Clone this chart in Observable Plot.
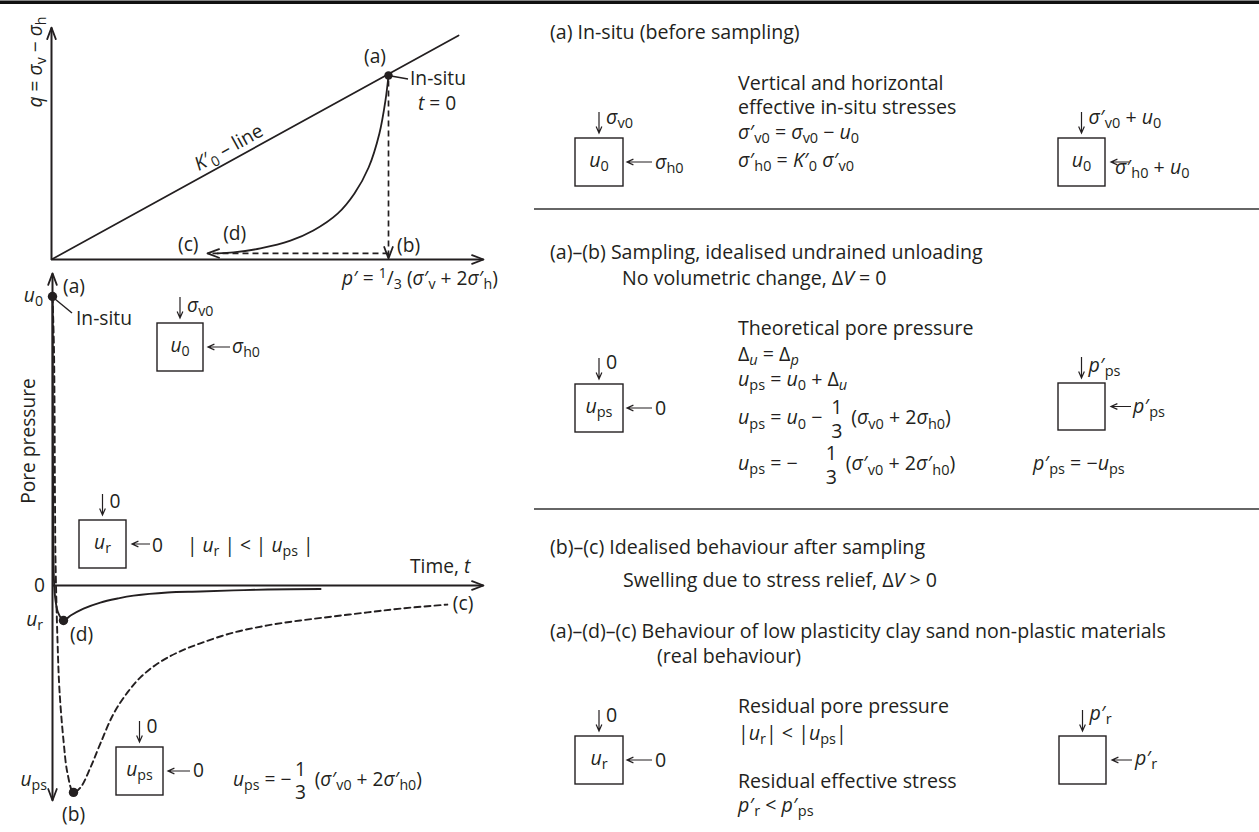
<!DOCTYPE html>
<html><head><meta charset="utf-8">
<script src="https://cdn.jsdelivr.net/npm/d3@7"></script>
<script src="https://cdn.jsdelivr.net/npm/@observablehq/plot@0.6"></script>
<style>
html,body{margin:0;padding:0;background:#fff;}
#page{position:relative;width:1259px;height:832px;overflow:hidden;font-family:"Open Sans","Noto Sans",sans-serif;color:#231f20;}
#page > svg{position:absolute;left:0;}
.lbl{position:absolute;left:0;top:0;white-space:nowrap;line-height:1.2;}
.lbl sub{font-size:0.74em;vertical-align:-0.3em;line-height:0;font-style:normal;}
.lbl sup{font-size:0.72em;vertical-align:0.5em;line-height:0;}
.lbl .pm{font-style:normal;margin-left:0.02em;}
.lbl .ps{margin-left:0;}
.bl{display:inline-block;width:0;height:0;vertical-align:baseline;}
.frac{display:inline-block;vertical-align:-0.68em;text-align:center;line-height:1.2;margin:0 0.14em;}
.frac>span{display:block;padding:0 0.05em;}
</style></head>
<body><div id="page"></div>
<script>
const ink = "#231f20";

// ---------- stress path (q – p′) values ----------
const k0LineP = [0, 1.208];
const k0LineQ = [0, 0.665];
const insituP = 1.0, insituQ = 0.546;                 // point (a)
const realPathP = [1.000, 0.991, 0.973, 0.941, 0.899, 0.849, 0.777, 0.709, 0.620, 0.540, 0.493];
const realPathQ = [0.546, 0.472, 0.374, 0.273, 0.196, 0.136, 0.086, 0.056, 0.033, 0.021, 0.018];
const unloadQEnd = 0.003;                              // (a) -> (b)
const swellQ = 0.018, swellPEnd = 0.463;               // (b) -> (c)
const pAxisEnd = 1.282, qAxisEnd = 0.688;

// ---------- pore pressure vs time values ----------
const u0 = 1.0, ur = -0.121, ups = -0.716;
const realTime = [0, 0.07, 0.19, 0.35, 0.7, 1.28, 2.55, 4.2, 7.2, 11.1, 15.1, 18.8, 26.7, 34.3, 42, 49.9, 62.2];
const realU    = [1, 0.64, 0.156, 0.017, -0.052, -0.093, -0.121, -0.104, -0.080, -0.059, -0.045, -0.035, -0.024, -0.021, -0.017, -0.014, -0.012];
const idealTime = [0, 0.35, 0.58, 0.7, 1.16, 1.62, 2.55, 3.48, 4.87, 6.5, 8.8, 11.1, 14.2, 17.4, 20.4, 24.4, 29, 34.3, 42, 49.9, 57.5, 65.2, 73.1, 80.7, 91.6];
const idealU    = [1, 0.81, 0.29, 0.087, -0.19, -0.363, -0.536, -0.65, -0.716, -0.699, -0.63, -0.547, -0.443, -0.37, -0.318, -0.27, -0.232, -0.2, -0.163, -0.138, -0.121, -0.107, -0.093, -0.08, -0.066];
const dTime = 2.55, bTime = 4.87;
const tAxisEnd = 100, uAxisTop = 1.08, uAxisBottom = -0.744;

const zip = (xs, ys, kx, ky) => xs.map((v, i) => ({[kx]: v, [ky]: ys[i]}));
const page = document.getElementById("page");

// open arrow head drawn only (no shaft), tip at origin, pointing north
const head = {draw(ctx) { ctx.moveTo(-4.3, 11.5); ctx.lineTo(0, 0); ctx.lineTo(4.3, 11.5); }};

// ---------- stress path plot ----------
const sx = 337;
const stressPlot = Plot.plot({
  width: 520, height: 300, margin: 0,
  x: {domain: [0, 1.3], range: [51, 51 + 1.3 * sx], axis: null},
  y: {domain: [0, 0.7], range: [259, 259 - 0.7 * sx], axis: null},
  style: {background: "transparent", overflow: "visible"},
  marks: [
    Plot.link([{x1: 0, y1: 0, x2: 0, y2: qAxisEnd}, {x1: 0, y1: 0, x2: pAxisEnd, y2: 0}],
      {x1: "x1", y1: "y1", x2: "x2", y2: "y2", stroke: ink, strokeWidth: 2}),
    Plot.line(zip(k0LineP, k0LineQ, "p", "q"), {x: "p", y: "q", stroke: ink, strokeWidth: 1.7}),
    Plot.line(zip(realPathP, realPathQ, "p", "q"), {x: "p", y: "q", curve: "catmull-rom", stroke: ink, strokeWidth: 1.8}),
    Plot.link([{x1: insituP, y1: insituQ - 0.015, x2: insituP, y2: unloadQEnd}],
      {x1: "x1", y1: "y1", x2: "x2", y2: "y2", stroke: ink, strokeWidth: 1.7, strokeDasharray: "6,4"}),
    Plot.link([{x1: insituP, y1: swellQ, x2: swellPEnd, y2: swellQ}],
      {x1: "x1", y1: "y1", x2: "x2", y2: "y2", stroke: ink, strokeWidth: 1.7, strokeDasharray: "6,4"}),
    Plot.vector([
        {p: 0, q: qAxisEnd, dir: 0}, {p: pAxisEnd, q: 0, dir: 90},
        {p: insituP, q: unloadQEnd, dir: 180}, {p: swellPEnd, q: swellQ, dir: 270}],
      {x: "p", y: "q", rotate: "dir", length: 11, shape: head, anchor: "start", stroke: ink, fill: "none", strokeWidth: 1.8}),
    Plot.dot([{p: insituP, q: insituQ}], {x: "p", y: "q", r: 4.2, fill: ink, stroke: null})
  ]
});
stressPlot.style.top = "0px";
page.appendChild(stressPlot);

// ---------- pore pressure plot ----------
const ux = 289, poreTop = 262;
const porePlot = Plot.plot({
  width: 520, height: 570, margin: 0,
  x: {domain: [0, 100], range: [52, 483], axis: null},
  y: {domain: [-0.75, 1.1], range: [323 + 0.75 * ux, 323 - 1.1 * ux], axis: null},
  style: {background: "transparent", overflow: "visible"},
  marks: [
    Plot.link([{x1: 0, y1: uAxisBottom, x2: 0, y2: uAxisTop}, {x1: 0, y1: 0, x2: tAxisEnd, y2: 0}],
      {x1: "x1", y1: "y1", x2: "x2", y2: "y2", stroke: ink, strokeWidth: 2}),
    Plot.line(zip(idealTime, idealU, "t", "u"), {x: "t", y: "u", curve: "catmull-rom", stroke: ink, strokeWidth: 1.9, strokeDasharray: "6,4"}),
    Plot.line(zip(realTime, realU, "t", "u"), {x: "t", y: "u", curve: "catmull-rom", stroke: ink, strokeWidth: 1.9}),
    Plot.vector([{t: 0, u: uAxisTop, dir: 0}, {t: 0, u: uAxisBottom, dir: 180}, {t: tAxisEnd, u: 0, dir: 90}],
      {x: "t", y: "u", rotate: "dir", length: 11, shape: head, anchor: "start", stroke: ink, fill: "none", strokeWidth: 1.8}),
    Plot.dot([{t: 0, u: u0}, {t: dTime, u: ur}, {t: bTime, u: ups}], {x: "t", y: "u", r: 4.7, fill: ink, stroke: null})
  ]
});
porePlot.style.top = poreTop + "px";
page.appendChild(porePlot);

const xS = v => stressPlot.scale("x").apply(v), yS = v => stressPlot.scale("y").apply(v);
const xP = v => porePlot.scale("x").apply(v), yP = v => porePlot.scale("y").apply(v) + poreTop;

// ---------- decoration overlay ----------
const deco = d3.select(page).append("svg").attr("width", 1259).attr("height", 832).style("top", "0px");
deco.append("rect").attr("x", 0).attr("y", 0.5).attr("width", 1259).attr("height", 3.5).attr("fill", "#111");
[209, 509].forEach(y => deco.append("line").attr("x1", 534).attr("x2", 1259).attr("y1", y).attr("y2", y).attr("stroke", "#333").attr("stroke-width", 1.6));
function seg(x1, y1, x2, y2, w = 1.2) {
  deco.append("line").attr("x1", x1).attr("y1", y1).attr("x2", x2).attr("y2", y2).attr("stroke", ink).attr("stroke-width", w);
}
function smallArrow(x1, y1, x2, y2) {
  const a = Math.atan2(y2 - y1, x2 - x1), L = 7, w = 0.42;
  deco.append("path")
    .attr("d", `M${x1},${y1}L${x2},${y2}M${x2 - L * Math.cos(a - w)},${y2 - L * Math.sin(a - w)}L${x2},${y2}L${x2 - L * Math.cos(a + w)},${y2 - L * Math.sin(a + w)}`)
    .attr("fill", "none").attr("stroke", ink).attr("stroke-width", 1.2);
}
// leader lines for "In-situ"
seg(xS(insituP) + 3, yS(insituQ) + 1, xS(insituP) + 20, yS(insituQ) + 4, 1.4);
seg(xP(0) + 3, yP(u0) + 3, xP(0) + 20, yP(u0) + 17, 1.4);

// ---------- text helpers ----------
function label(html, x, y, o = {}) {
  const size = o.size || R, anchor = o.anchor || "start";
  const d = document.createElement("div");
  d.className = "lbl";
  d.style.fontSize = size + "px";
  d.innerHTML = html + '<span class="bl"></span>';
  page.appendChild(d);
  const b = d.querySelector(".bl").offsetTop;
  const w = d.getBoundingClientRect().width;
  const ax = anchor === "middle" ? w / 2 : anchor === "end" ? w : 0;
  d.style.left = (x - ax) + "px";
  d.style.top = (y - b) + "px";
  if (o.rotate) { d.style.transformOrigin = `${ax}px ${b}px`; d.style.transform = `rotate(${o.rotate}deg)`; }
}
const R = 19.6, L = 19.2;
const it = s => `<i>${s}</i>`;
const u = s => `<i>u</i><sub>${s}</sub>`;
const sg = (s, pr) => pr ? `<i>σ</i><span class="pm">′</span><sub class="ps">${s}</sub>` : `<i>σ</i><sub>${s}</sub>`;
const pp = s => `<i>p</i><span class="pm">′</span><sub class="ps">${s}</sub>`;
const K0 = `<i>K</i><span class="pm">′</span><sub class="ps">0</sub>`;
const frac = `<span class="frac"><span>1</span><span>3</span></span>`;

// ---------- stress element sketches ----------
const sketches = [
  {x: 157, y: 323, w: 46, h: 48, inner: u("0"), top: sg("v0"), side: sg("h0"), size: L, a1: 27, a2: 5, lx: 29, ly: 30, ty: -11},
  {x: 79, y: 520, w: 47, h: 48, inner: u("r"), top: "0", side: "0", size: L, a1: 24, a2: 6, lx: 26, ly: 32, ty: -12},
  {x: 116, y: 747, w: 47, h: 48, inner: u("ps"), top: "0", side: "0", size: L, a1: 27, a2: 5, lx: 30, ly: 30, ty: -14},
  {x: 575, y: 138, w: 48, h: 48, inner: u("0"), top: sg("v0"), side: sg("h0"), a1: 29, a2: 4, lx: 32, ly: 31, ty: -14},
  {x: 575, y: 384, w: 48, h: 48, inner: u("ps"), top: "0", side: "0", a1: 29, a2: 4, lx: 32, ly: 31, ty: -15},
  {x: 575, y: 736, w: 48, h: 48, inner: u("r"), top: "0", side: "0", a1: 29, a2: 4, lx: 32, ly: 31, ty: -14},
  {x: 1058, y: 138, w: 47, h: 48, inner: u("0"), top: `${sg("v0", 1)} + ${u("0")}`, side: `${sg("h0", 1)} + ${u("0")}`, a1: 24, a2: 6, lx: 10, ly: 36, ty: -14},
  {x: 1058, y: 383, w: 47, h: 47, inner: "", top: pp("ps"), side: pp("ps"), a1: 26, a2: 6, lx: 28, ly: 30, ty: -11},
  {x: 1059, y: 736, w: 47, h: 48, inner: "", top: pp("r"), side: pp("r"), a1: 26, a2: 6, lx: 29, ly: 29, ty: -16}
];
for (const s of sketches) {
  deco.append("rect").attr("x", s.x).attr("y", s.y).attr("width", s.w).attr("height", s.h)
    .attr("fill", "none").attr("stroke", ink).attr("stroke-width", 1.4);
  const cx = s.x + s.w / 2, cy = s.y + s.h / 2, size = s.size || R;
  smallArrow(cx, s.y - 26, cx, s.y - 5);
  smallArrow(s.x + s.w + s.a1, cy, s.x + s.w + s.a2, cy);
  if (s.inner) label(s.inner, cx, s.y + 29, {size, anchor: "middle"});
  label(s.top, cx + 7, s.y + s.ty, {size});
  label(s.side, s.x + s.w + s.lx, s.y + s.ly, {size});
}

// ---------- stress-path labels ----------
label(`${it("q")} = <i>σ</i><sub>v</sub> − <i>σ</i><sub>h</sub>`, 42, 62, {size: L, anchor: "middle", rotate: -90});
{
  const ang = Math.atan2(yS(k0LineQ[1]) - yS(k0LineQ[0]), xS(k0LineP[1]) - xS(k0LineP[0]));
  const pm = 0.545, qm = pm * k0LineQ[1] / k0LineP[1];
  const nx = Math.sin(ang), ny = -Math.cos(ang);
  label(`${K0} – line`, xS(pm) + 6 * nx, yS(qm) + 6 * ny, {size: L, anchor: "middle", rotate: ang * 180 / Math.PI});
}
label("(a)", xS(insituP) - 13, yS(insituQ) - 12, {size: L, anchor: "middle"});
label("In-situ", xS(insituP) + 22, yS(insituQ) + 10, {size: L});
label(`${it("t")} = 0`, xS(insituP) + 30, yS(insituQ) + 35, {size: L});
label("(b)", xS(insituP) + 9, yS(0) - 7, {size: L});
label("(c)", xS(swellPEnd) - 29, yS(swellQ) - 2, {size: L});
label("(d)", xS(realPathP[realPathP.length - 1]) + 6, yS(swellQ) - 13, {size: L});
label(`<i>p</i><span class="pm">′</span> = <sup>1</sup>/<sub>3</sub> (${sg("v", 1)} + 2${sg("h", 1)})`, 342, 285, {size: L});

// ---------- pore-pressure labels ----------
label(u("0"), xP(0) - 9, yP(u0) + 6, {size: L, anchor: "end"});
label("(a)", xP(0) + 11, yP(u0) - 3, {size: L});
label("In-situ", xP(0) + 24, yP(u0) + 29, {size: L});
label("Pore pressure", 35, 441, {size: L, anchor: "middle", rotate: -90});
label(`| ${u("r")} | &lt; | ${u("ps")} |`, 187, 552, {size: L});
label("0", xP(0) - 7, yP(0) + 7, {size: L, anchor: "end"});
label(`Time, ${it("t")}`, 410, yP(0) - 12, {size: L});
label(u("r"), xP(0) - 9, yP(ur) + 6, {size: L, anchor: "end"});
label("(d)", xP(dTime) + 7, yP(ur) + 21, {size: L});
label(u("ps"), xP(0) - 5, yP(ups) - 6, {size: L, anchor: "end"});
label("(b)", xP(bTime) - 11, yP(ups) + 29, {size: L});
label("(c)", xP(idealTime[idealTime.length - 1]) + 6, yP(idealU[idealU.length - 1]) + 6, {size: L});
label(`${u("ps")} = −${frac} (${sg("v0", 1)} + 2${sg("h0", 1)})`, 233, 786, {size: L});

// ---------- right panel text ----------
label("(a) In-situ (before sampling)", 550, 39);
label("Vertical and horizontal", 738, 90);
label("effective in-situ stresses", 738, 114);
label(`${sg("v0", 1)} = ${sg("v0")} − ${u("0")}`, 738, 139);
label(`${sg("h0", 1)} = ${K0} ${sg("v0", 1)}`, 738, 167);

label("(a)–(b) Sampling, idealised undrained unloading", 550, 259);
label(`No volumetric change, Δ${it("V")} = 0`, 622, 285);
label("Theoretical pore pressure", 738, 335);
label(`Δ<sub><i>u</i></sub> = Δ<sub><i>p</i></sub>`, 738, 361);
label(`${u("ps")} = ${u("0")} + Δ<sub><i>u</i></sub>`, 738, 386);
label(`${u("ps")} = ${u("0")} − ${frac} (${sg("v0")} + 2${sg("h0")})`, 738, 424);
label(`${u("ps")} = −`, 738, 470);
label(`${frac} (${sg("v0", 1)} + 2${sg("h0", 1)})`, 822, 470);
label(`${pp("ps")} = −${u("ps")}`, 1033, 470);

label("(b)–(c) Idealised behaviour after sampling", 550, 554);
label(`Swelling due to stress relief, Δ${it("V")} &gt; 0`, 623, 587);
label("(a)–(d)–(c) Behaviour of low plasticity clay sand non-plastic materials", 550, 638);
label("(real behaviour)", 657, 663);
label("Residual pore pressure", 738, 713);
label(`|${u("r")}| &lt; |${u("ps")}|`, 738, 740);
label("Residual effective stress", 738, 788);
label(`${pp("r")} &lt; ${pp("ps")}`, 738, 812);
</script></body></html>
